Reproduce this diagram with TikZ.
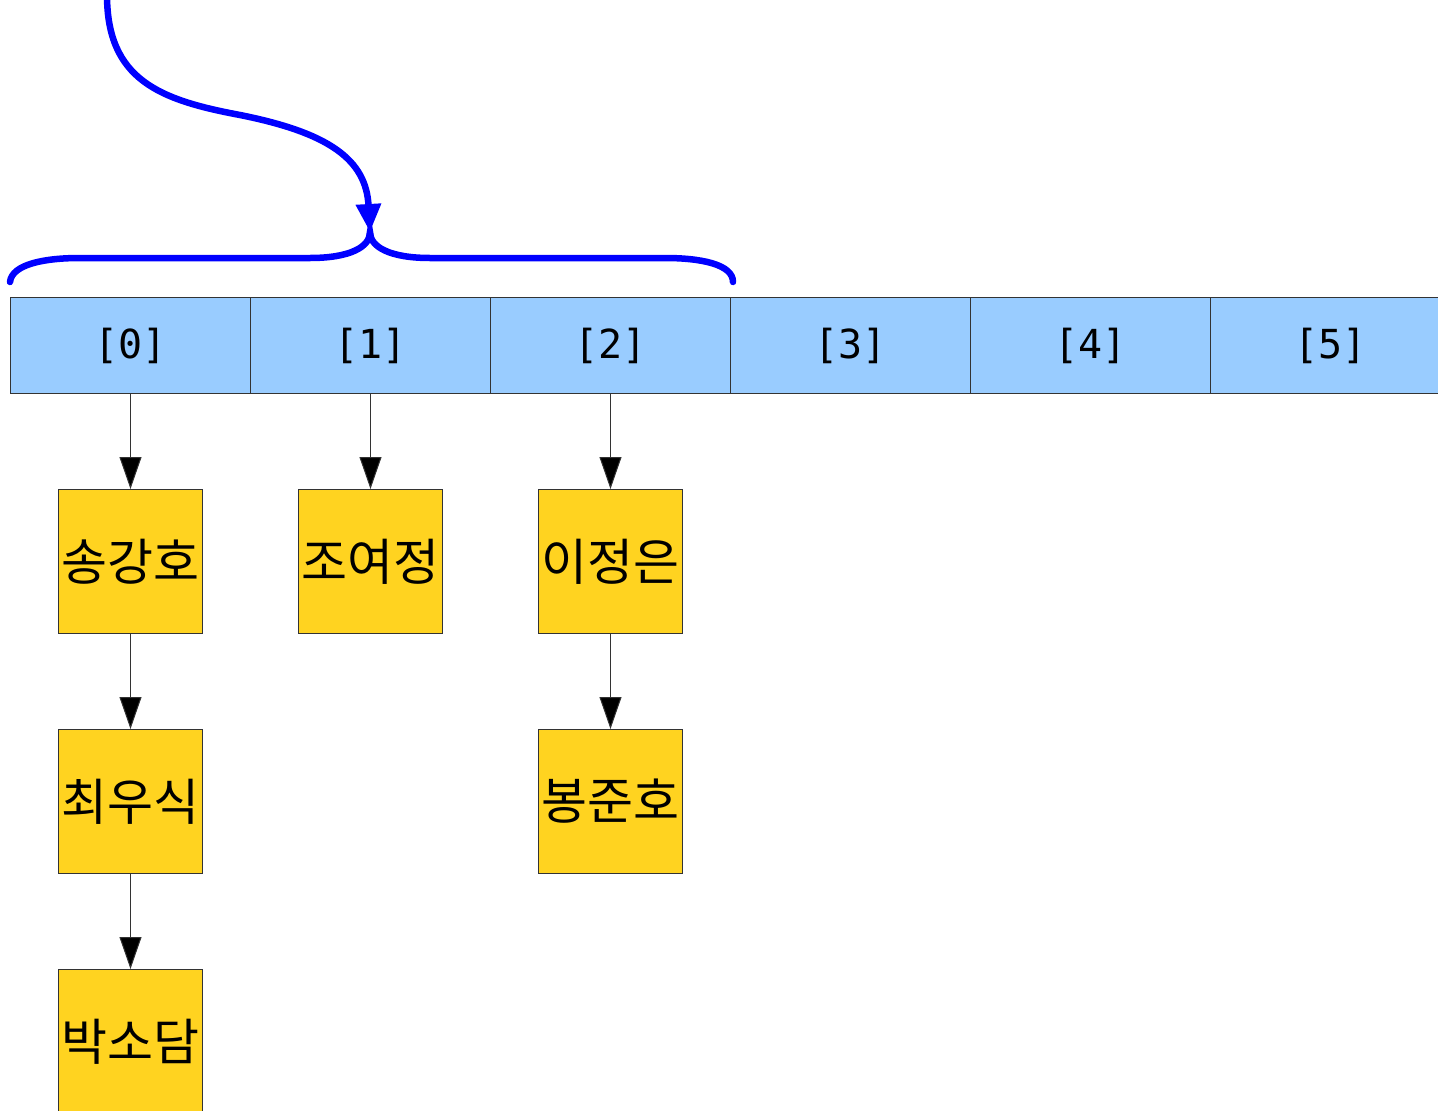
\documentclass[tikz,border=0pt]{standalone}
\usepackage{fontspec}
\newfontfamily\kofont{Noto Sans CJK KR}
\newfontfamily\monofont{DejaVu Sans Mono}
\usetikzlibrary{arrows.meta}
\definecolor{cellblue}{HTML}{99CCFF}
\definecolor{boxyellow}{HTML}{FFD320}
\definecolor{edgegray}{HTML}{333333}
\tikzset{
  cell/.style={draw=edgegray, line width=1pt, fill=cellblue, minimum width=240pt, minimum height=96pt, inner sep=0pt, anchor=north west, font=\monofont\fontsize{40}{44}\selectfont},
  person/.style={draw=edgegray, line width=1pt, fill=boxyellow, minimum width=144pt, minimum height=144pt, inner sep=0pt, anchor=north west, font=\kofont\fontsize{50}{54}\selectfont},
  link/.style={draw=black!80, line width=1pt, -{Triangle[length=32pt,width=22pt,fill=black]}},
  brace/.style={draw=blue, line width=6.5pt, line cap=round},
  pointer/.style={draw=blue, line width=6.5pt, -{Triangle[length=28pt,width=24pt,fill=blue]}}
}
\begin{document}
\begin{tikzpicture}[x=1pt,y=-1pt]
\useasboundingbox (0,0) rectangle (1438,1111);
\clip (0,0) rectangle (1438,1111);
% array cells
\node[cell] (c0) at (10,297) {\raisebox{-3pt}{[0]}};
\node[cell] (c1) at (250,297) {\raisebox{-3pt}{[1]}};
\node[cell] (c2) at (490,297) {\raisebox{-3pt}{[2]}};
\node[cell] (c3) at (730,297) {\raisebox{-3pt}{[3]}};
\node[cell] (c4) at (970,297) {\raisebox{-3pt}{[4]}};
\node[cell] (c5) at (1210,297) {\raisebox{-3pt}{[5]}};
% people boxes
\node[person] (p00) at (58,489) {송강호};
\node[person] (p01) at (58,729) {최우식};
\node[person] (p02) at (58,969) {박소담};
\node[person] (p10) at (298,489) {조여정};
\node[person] (p20) at (538,489) {이정은};
\node[person] (p21) at (538,729) {봉준호};
% links
\draw[link] (c0.south) -- (p00.north);
\draw[link] (p00.south) -- (p01.north);
\draw[link] (p01.south) -- (p02.north);
\draw[link] (c1.south) -- (p10.north);
\draw[link] (c2.south) -- (p20.north);
\draw[link] (p20.south) -- (p21.north);
% brace
\coordinate (tip) at (370,232);
\coordinate (bl) at (10,282);
\coordinate (br) at (733,282);
\draw[brace] (bl) .. controls (12,264) and (45,258) .. (80,258) -- (310,258)
  .. controls (350,258) and (370,247) .. (tip)
  .. controls (370,247) and (390,258) .. (430,258) -- (665,258)
  .. controls (700,258) and (733,264) .. (br);
% pointer
\coordinate (start) at (107,-5);
\draw[pointer] (start) .. controls (107,80) and (160,100) .. (240,115)
  .. controls (330,133) and (366,160) .. (tip);
\end{tikzpicture}
\end{document}
